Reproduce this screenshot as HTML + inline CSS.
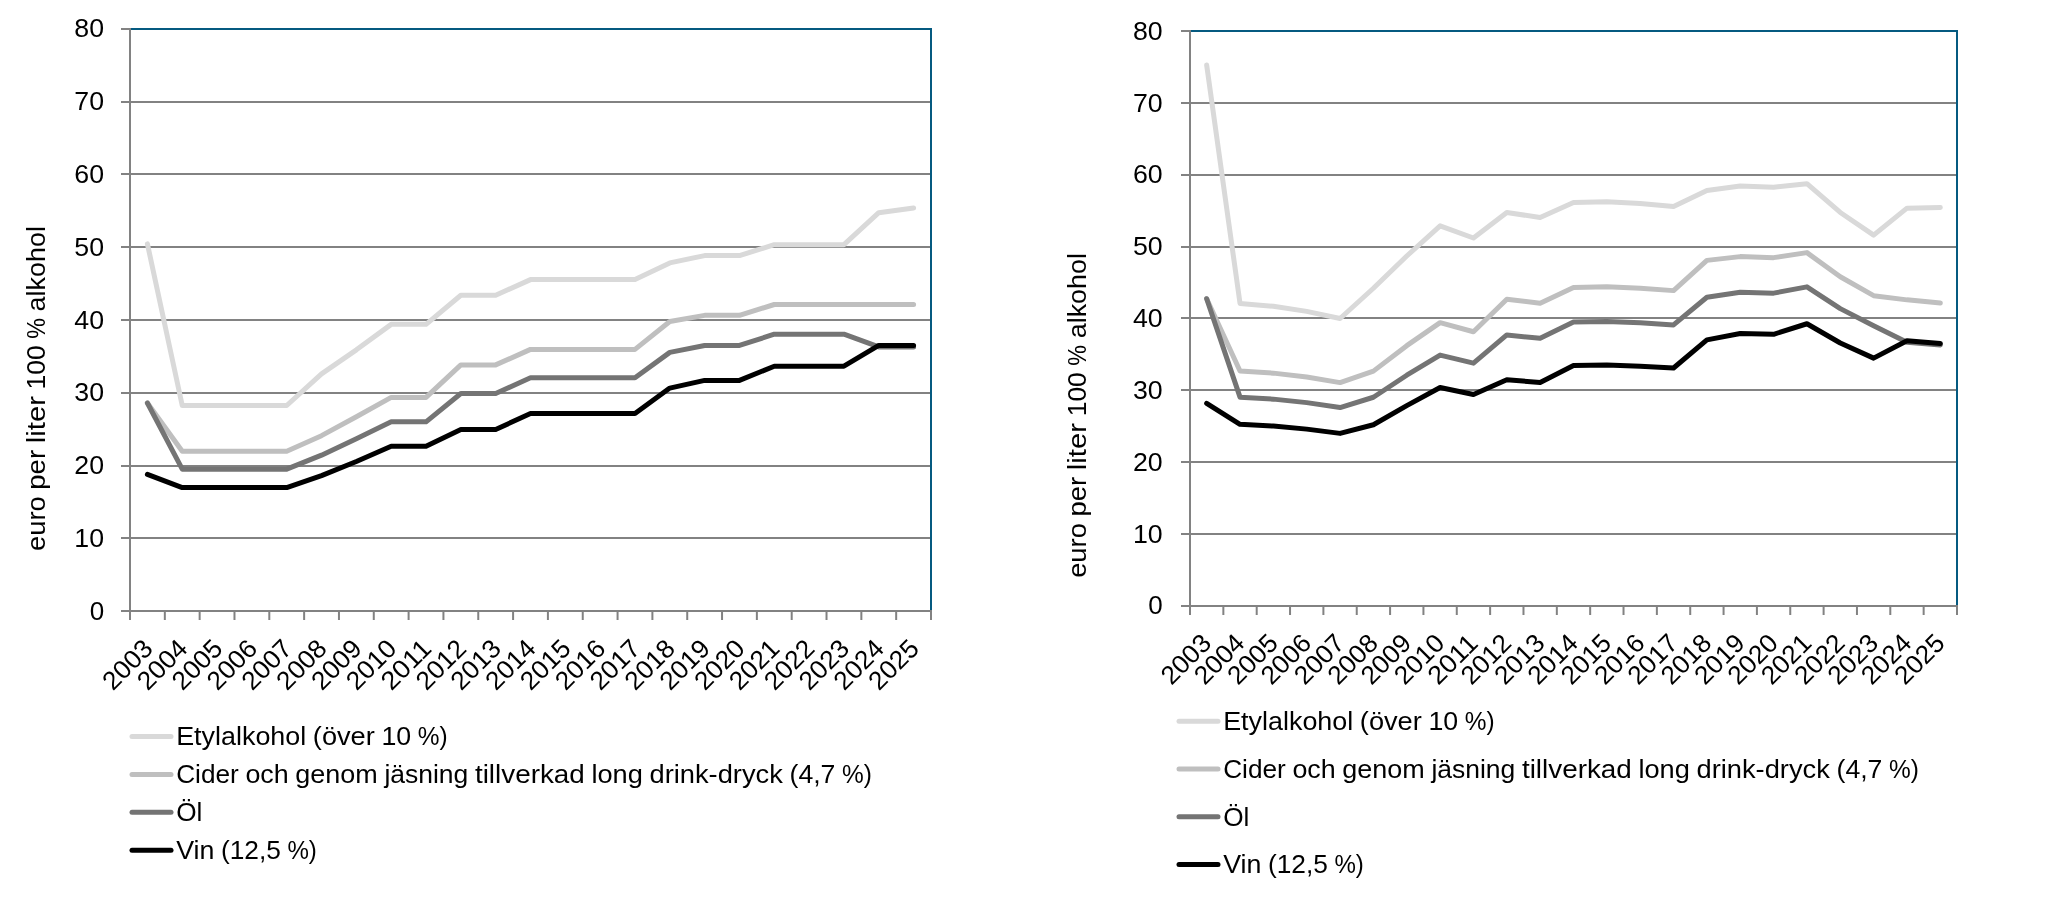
<!DOCTYPE html>
<html lang="sv"><head><meta charset="utf-8"><title>Alkoholskatt</title>
<style>
html,body{margin:0;padding:0;background:#fff;}
svg{display:block;will-change:transform;}
text{font-family:'Liberation Sans', sans-serif;font-size:26.0px;fill:#000;}
</style></head>
<body>
<svg width="2048" height="898" viewBox="0 0 2048 898">
<rect x="0" y="0" width="2048" height="898" fill="#ffffff"/>
<g>
<line x1="121" y1="611.00" x2="130" y2="611.00" stroke="#828282" stroke-width="2"/>
<text x="104.10" y="620.20" text-anchor="end">0</text>
<line x1="121" y1="538.00" x2="931" y2="538.00" stroke="#828282" stroke-width="2"/>
<text x="104.10" y="546.90" text-anchor="end" textLength="29.74" lengthAdjust="spacingAndGlyphs">10</text>
<line x1="121" y1="466.00" x2="931" y2="466.00" stroke="#828282" stroke-width="2"/>
<text x="104.10" y="473.90" text-anchor="end" textLength="29.74" lengthAdjust="spacingAndGlyphs">20</text>
<line x1="121" y1="393.00" x2="931" y2="393.00" stroke="#828282" stroke-width="2"/>
<text x="104.10" y="400.90" text-anchor="end" textLength="29.74" lengthAdjust="spacingAndGlyphs">30</text>
<line x1="121" y1="320.00" x2="931" y2="320.00" stroke="#828282" stroke-width="2"/>
<text x="104.10" y="329.10" text-anchor="end" textLength="29.74" lengthAdjust="spacingAndGlyphs">40</text>
<line x1="121" y1="247.00" x2="931" y2="247.00" stroke="#828282" stroke-width="2"/>
<text x="104.10" y="255.90" text-anchor="end" textLength="29.74" lengthAdjust="spacingAndGlyphs">50</text>
<line x1="121" y1="174.00" x2="931" y2="174.00" stroke="#828282" stroke-width="2"/>
<text x="104.10" y="182.70" text-anchor="end" textLength="29.74" lengthAdjust="spacingAndGlyphs">60</text>
<line x1="121" y1="102.00" x2="931" y2="102.00" stroke="#828282" stroke-width="2"/>
<text x="104.10" y="109.90" text-anchor="end" textLength="29.74" lengthAdjust="spacingAndGlyphs">70</text>
<line x1="121" y1="29.00" x2="130" y2="29.00" stroke="#828282" stroke-width="2"/>
<text x="104.10" y="36.90" text-anchor="end" textLength="29.74" lengthAdjust="spacingAndGlyphs">80</text>
<line x1="130" y1="29" x2="932" y2="29" stroke="#055a80" stroke-width="2"/>
<line x1="931" y1="29" x2="931" y2="611" stroke="#055a80" stroke-width="2"/>
<line x1="130" y1="28" x2="130" y2="612" stroke="#828282" stroke-width="2"/>
<line x1="130" y1="611" x2="932" y2="611" stroke="#828282" stroke-width="2"/>
<line x1="130.00" y1="611" x2="130.00" y2="620" stroke="#828282" stroke-width="2"/>
<line x1="164.83" y1="611" x2="164.83" y2="620" stroke="#828282" stroke-width="2"/>
<line x1="199.65" y1="611" x2="199.65" y2="620" stroke="#828282" stroke-width="2"/>
<line x1="234.48" y1="611" x2="234.48" y2="620" stroke="#828282" stroke-width="2"/>
<line x1="269.30" y1="611" x2="269.30" y2="620" stroke="#828282" stroke-width="2"/>
<line x1="304.13" y1="611" x2="304.13" y2="620" stroke="#828282" stroke-width="2"/>
<line x1="338.96" y1="611" x2="338.96" y2="620" stroke="#828282" stroke-width="2"/>
<line x1="373.78" y1="611" x2="373.78" y2="620" stroke="#828282" stroke-width="2"/>
<line x1="408.61" y1="611" x2="408.61" y2="620" stroke="#828282" stroke-width="2"/>
<line x1="443.43" y1="611" x2="443.43" y2="620" stroke="#828282" stroke-width="2"/>
<line x1="478.26" y1="611" x2="478.26" y2="620" stroke="#828282" stroke-width="2"/>
<line x1="513.09" y1="611" x2="513.09" y2="620" stroke="#828282" stroke-width="2"/>
<line x1="547.91" y1="611" x2="547.91" y2="620" stroke="#828282" stroke-width="2"/>
<line x1="582.74" y1="611" x2="582.74" y2="620" stroke="#828282" stroke-width="2"/>
<line x1="617.57" y1="611" x2="617.57" y2="620" stroke="#828282" stroke-width="2"/>
<line x1="652.39" y1="611" x2="652.39" y2="620" stroke="#828282" stroke-width="2"/>
<line x1="687.22" y1="611" x2="687.22" y2="620" stroke="#828282" stroke-width="2"/>
<line x1="722.04" y1="611" x2="722.04" y2="620" stroke="#828282" stroke-width="2"/>
<line x1="756.87" y1="611" x2="756.87" y2="620" stroke="#828282" stroke-width="2"/>
<line x1="791.70" y1="611" x2="791.70" y2="620" stroke="#828282" stroke-width="2"/>
<line x1="826.52" y1="611" x2="826.52" y2="620" stroke="#828282" stroke-width="2"/>
<line x1="861.35" y1="611" x2="861.35" y2="620" stroke="#828282" stroke-width="2"/>
<line x1="896.17" y1="611" x2="896.17" y2="620" stroke="#828282" stroke-width="2"/>
<line x1="931.00" y1="611" x2="931.00" y2="620" stroke="#828282" stroke-width="2"/>
<polyline points="147.41,243.90 182.24,405.48 217.07,405.48 251.89,405.48 286.72,405.48 321.54,373.83 356.37,349.83 391.20,324.37 426.02,324.37 460.85,295.26 495.67,295.26 530.50,279.62 565.33,279.62 600.15,279.62 634.98,279.62 669.80,262.89 704.63,255.62 739.46,255.62 774.28,244.70 809.11,244.70 843.93,244.70 878.76,212.69 913.59,207.96" fill="none" stroke="#d9d9d9" stroke-width="5" stroke-linecap="round" stroke-linejoin="round"/>
<polyline points="147.41,403.01 182.24,451.31 217.07,451.31 251.89,451.31 286.72,451.31 321.54,435.67 356.37,416.76 391.20,397.41 426.02,397.41 460.85,364.89 495.67,364.89 530.50,349.39 565.33,349.39 600.15,349.39 634.98,349.39 669.80,321.45 704.63,315.34 739.46,315.34 774.28,304.50 809.11,304.50 843.93,304.50 878.76,304.50 913.59,304.50" fill="none" stroke="#bfbfbf" stroke-width="5" stroke-linecap="round" stroke-linejoin="round"/>
<polyline points="147.41,403.01 182.24,469.14 217.07,469.14 251.89,469.14 286.72,469.14 321.54,455.17 356.37,438.80 391.20,421.85 426.02,421.85 460.85,393.48 495.67,393.48 530.50,377.84 565.33,377.84 600.15,377.84 634.98,377.84 669.80,352.37 704.63,345.46 739.46,345.46 774.28,334.19 809.11,334.19 843.93,334.19 878.76,346.92 913.59,346.92" fill="none" stroke="#747474" stroke-width="5" stroke-linecap="round" stroke-linejoin="round"/>
<polyline points="147.41,474.38 182.24,487.62 217.07,487.62 251.89,487.62 286.72,487.62 321.54,475.68 356.37,461.50 391.20,446.29 426.02,446.29 460.85,429.42 495.67,429.42 530.50,413.56 565.33,413.56 600.15,413.56 634.98,413.56 669.80,388.09 704.63,380.38 739.46,380.38 774.28,366.20 809.11,366.20 843.93,366.20 878.76,345.46 913.59,345.46" fill="none" stroke="#000000" stroke-width="5" stroke-linecap="round" stroke-linejoin="round"/>
<text transform="translate(154.31,650.1) rotate(-45)" text-anchor="end" textLength="58.50" lengthAdjust="spacingAndGlyphs">2003</text>
<text transform="translate(189.14,650.1) rotate(-45)" text-anchor="end" textLength="58.50" lengthAdjust="spacingAndGlyphs">2004</text>
<text transform="translate(223.97,650.1) rotate(-45)" text-anchor="end" textLength="58.50" lengthAdjust="spacingAndGlyphs">2005</text>
<text transform="translate(258.79,650.1) rotate(-45)" text-anchor="end" textLength="58.50" lengthAdjust="spacingAndGlyphs">2006</text>
<text transform="translate(293.62,650.1) rotate(-45)" text-anchor="end" textLength="58.50" lengthAdjust="spacingAndGlyphs">2007</text>
<text transform="translate(328.44,650.1) rotate(-45)" text-anchor="end" textLength="58.50" lengthAdjust="spacingAndGlyphs">2008</text>
<text transform="translate(363.27,650.1) rotate(-45)" text-anchor="end" textLength="58.50" lengthAdjust="spacingAndGlyphs">2009</text>
<text transform="translate(398.10,650.1) rotate(-45)" text-anchor="end" textLength="58.50" lengthAdjust="spacingAndGlyphs">2010</text>
<text transform="translate(432.92,650.1) rotate(-45)" text-anchor="end" textLength="58.50" lengthAdjust="spacingAndGlyphs">2011</text>
<text transform="translate(467.75,650.1) rotate(-45)" text-anchor="end" textLength="58.50" lengthAdjust="spacingAndGlyphs">2012</text>
<text transform="translate(502.57,650.1) rotate(-45)" text-anchor="end" textLength="58.50" lengthAdjust="spacingAndGlyphs">2013</text>
<text transform="translate(537.40,650.1) rotate(-45)" text-anchor="end" textLength="58.50" lengthAdjust="spacingAndGlyphs">2014</text>
<text transform="translate(572.23,650.1) rotate(-45)" text-anchor="end" textLength="58.50" lengthAdjust="spacingAndGlyphs">2015</text>
<text transform="translate(607.05,650.1) rotate(-45)" text-anchor="end" textLength="58.50" lengthAdjust="spacingAndGlyphs">2016</text>
<text transform="translate(641.88,650.1) rotate(-45)" text-anchor="end" textLength="58.50" lengthAdjust="spacingAndGlyphs">2017</text>
<text transform="translate(676.70,650.1) rotate(-45)" text-anchor="end" textLength="58.50" lengthAdjust="spacingAndGlyphs">2018</text>
<text transform="translate(711.53,650.1) rotate(-45)" text-anchor="end" textLength="58.50" lengthAdjust="spacingAndGlyphs">2019</text>
<text transform="translate(746.36,650.1) rotate(-45)" text-anchor="end" textLength="58.50" lengthAdjust="spacingAndGlyphs">2020</text>
<text transform="translate(781.18,650.1) rotate(-45)" text-anchor="end" textLength="58.50" lengthAdjust="spacingAndGlyphs">2021</text>
<text transform="translate(816.01,650.1) rotate(-45)" text-anchor="end" textLength="58.50" lengthAdjust="spacingAndGlyphs">2022</text>
<text transform="translate(850.83,650.1) rotate(-45)" text-anchor="end" textLength="58.50" lengthAdjust="spacingAndGlyphs">2023</text>
<text transform="translate(885.66,650.1) rotate(-45)" text-anchor="end" textLength="58.50" lengthAdjust="spacingAndGlyphs">2024</text>
<text transform="translate(920.49,650.1) rotate(-45)" text-anchor="end" textLength="58.50" lengthAdjust="spacingAndGlyphs">2025</text>
<text transform="translate(45.2,388.5) rotate(-90)"><tspan x="-162.43" textLength="54.68" lengthAdjust="spacingAndGlyphs">euro</tspan> <tspan x="-101.21" textLength="39.83" lengthAdjust="spacingAndGlyphs">per</tspan> <tspan x="-54.82" textLength="47.32" lengthAdjust="spacingAndGlyphs">liter</tspan> <tspan x="-0.95" textLength="44.16" lengthAdjust="spacingAndGlyphs">100</tspan> <tspan x="49.77" textLength="20.76" lengthAdjust="spacingAndGlyphs">%</tspan> <tspan x="77.09" textLength="85.34" lengthAdjust="spacingAndGlyphs">alkohol</tspan></text>
<line x1="132" y1="736.4" x2="171" y2="736.4" stroke="#d9d9d9" stroke-width="5" stroke-linecap="round"/>
<text y="745.1"><tspan x="176.20" textLength="130.02" lengthAdjust="spacingAndGlyphs">Etylalkohol</tspan> <tspan x="312.82" textLength="62.02" lengthAdjust="spacingAndGlyphs">(över</tspan> <tspan x="381.47" textLength="29.73" lengthAdjust="spacingAndGlyphs">10</tspan> <tspan x="417.82" textLength="29.88" lengthAdjust="spacingAndGlyphs">%)</tspan></text>
<line x1="132" y1="774.4" x2="171" y2="774.4" stroke="#bfbfbf" stroke-width="5" stroke-linecap="round"/>
<text y="783.1"><tspan x="176.20" textLength="62.61" lengthAdjust="spacingAndGlyphs">Cider</tspan> <tspan x="245.42" textLength="43.30" lengthAdjust="spacingAndGlyphs">och</tspan> <tspan x="295.32" textLength="82.47" lengthAdjust="spacingAndGlyphs">genom</tspan> <tspan x="384.40" textLength="83.91" lengthAdjust="spacingAndGlyphs">jäsning</tspan> <tspan x="474.93" textLength="109.88" lengthAdjust="spacingAndGlyphs">tillverkad</tspan> <tspan x="591.42" textLength="51.44" lengthAdjust="spacingAndGlyphs">long</tspan> <tspan x="649.47" textLength="133.41" lengthAdjust="spacingAndGlyphs">drink-dryck</tspan> <tspan x="789.50" textLength="45.95" lengthAdjust="spacingAndGlyphs">(4,7</tspan> <tspan x="842.06" textLength="29.88" lengthAdjust="spacingAndGlyphs">%)</tspan></text>
<line x1="132" y1="812.3" x2="171" y2="812.3" stroke="#747474" stroke-width="5" stroke-linecap="round"/>
<text y="821.0"><tspan x="176.20" textLength="26.16" lengthAdjust="spacingAndGlyphs">Öl</tspan></text>
<line x1="132" y1="850.2" x2="171" y2="850.2" stroke="#000000" stroke-width="5" stroke-linecap="round"/>
<text y="858.9"><tspan x="176.20" textLength="38.24" lengthAdjust="spacingAndGlyphs">Vin</tspan> <tspan x="220.97" textLength="59.96" lengthAdjust="spacingAndGlyphs">(12,5</tspan> <tspan x="287.46" textLength="29.44" lengthAdjust="spacingAndGlyphs">%)</tspan></text>
</g>
<g>
<line x1="1181" y1="606.00" x2="1190" y2="606.00" stroke="#828282" stroke-width="2"/>
<text x="1162.65" y="613.90" text-anchor="end">0</text>
<line x1="1181" y1="534.00" x2="1957" y2="534.00" stroke="#828282" stroke-width="2"/>
<text x="1162.65" y="542.90" text-anchor="end" textLength="29.74" lengthAdjust="spacingAndGlyphs">10</text>
<line x1="1181" y1="462.00" x2="1957" y2="462.00" stroke="#828282" stroke-width="2"/>
<text x="1162.65" y="470.90" text-anchor="end" textLength="29.74" lengthAdjust="spacingAndGlyphs">20</text>
<line x1="1181" y1="390.00" x2="1957" y2="390.00" stroke="#828282" stroke-width="2"/>
<text x="1162.65" y="398.90" text-anchor="end" textLength="29.74" lengthAdjust="spacingAndGlyphs">30</text>
<line x1="1181" y1="318.00" x2="1957" y2="318.00" stroke="#828282" stroke-width="2"/>
<text x="1162.65" y="326.90" text-anchor="end" textLength="29.74" lengthAdjust="spacingAndGlyphs">40</text>
<line x1="1181" y1="247.00" x2="1957" y2="247.00" stroke="#828282" stroke-width="2"/>
<text x="1162.65" y="254.90" text-anchor="end" textLength="29.74" lengthAdjust="spacingAndGlyphs">50</text>
<line x1="1181" y1="175.00" x2="1957" y2="175.00" stroke="#828282" stroke-width="2"/>
<text x="1162.65" y="182.90" text-anchor="end" textLength="29.74" lengthAdjust="spacingAndGlyphs">60</text>
<line x1="1181" y1="103.00" x2="1957" y2="103.00" stroke="#828282" stroke-width="2"/>
<text x="1162.65" y="112.20" text-anchor="end" textLength="29.74" lengthAdjust="spacingAndGlyphs">70</text>
<line x1="1181" y1="31.00" x2="1190" y2="31.00" stroke="#828282" stroke-width="2"/>
<text x="1162.65" y="39.90" text-anchor="end" textLength="29.74" lengthAdjust="spacingAndGlyphs">80</text>
<line x1="1190" y1="31" x2="1958" y2="31" stroke="#055a80" stroke-width="2"/>
<line x1="1957" y1="31" x2="1957" y2="606" stroke="#055a80" stroke-width="2"/>
<line x1="1190" y1="30" x2="1190" y2="607" stroke="#828282" stroke-width="2"/>
<line x1="1190" y1="606" x2="1958" y2="606" stroke="#828282" stroke-width="2"/>
<line x1="1190.00" y1="606" x2="1190.00" y2="615" stroke="#828282" stroke-width="2"/>
<line x1="1223.35" y1="606" x2="1223.35" y2="615" stroke="#828282" stroke-width="2"/>
<line x1="1256.70" y1="606" x2="1256.70" y2="615" stroke="#828282" stroke-width="2"/>
<line x1="1290.04" y1="606" x2="1290.04" y2="615" stroke="#828282" stroke-width="2"/>
<line x1="1323.39" y1="606" x2="1323.39" y2="615" stroke="#828282" stroke-width="2"/>
<line x1="1356.74" y1="606" x2="1356.74" y2="615" stroke="#828282" stroke-width="2"/>
<line x1="1390.09" y1="606" x2="1390.09" y2="615" stroke="#828282" stroke-width="2"/>
<line x1="1423.43" y1="606" x2="1423.43" y2="615" stroke="#828282" stroke-width="2"/>
<line x1="1456.78" y1="606" x2="1456.78" y2="615" stroke="#828282" stroke-width="2"/>
<line x1="1490.13" y1="606" x2="1490.13" y2="615" stroke="#828282" stroke-width="2"/>
<line x1="1523.48" y1="606" x2="1523.48" y2="615" stroke="#828282" stroke-width="2"/>
<line x1="1556.83" y1="606" x2="1556.83" y2="615" stroke="#828282" stroke-width="2"/>
<line x1="1590.17" y1="606" x2="1590.17" y2="615" stroke="#828282" stroke-width="2"/>
<line x1="1623.52" y1="606" x2="1623.52" y2="615" stroke="#828282" stroke-width="2"/>
<line x1="1656.87" y1="606" x2="1656.87" y2="615" stroke="#828282" stroke-width="2"/>
<line x1="1690.22" y1="606" x2="1690.22" y2="615" stroke="#828282" stroke-width="2"/>
<line x1="1723.57" y1="606" x2="1723.57" y2="615" stroke="#828282" stroke-width="2"/>
<line x1="1756.91" y1="606" x2="1756.91" y2="615" stroke="#828282" stroke-width="2"/>
<line x1="1790.26" y1="606" x2="1790.26" y2="615" stroke="#828282" stroke-width="2"/>
<line x1="1823.61" y1="606" x2="1823.61" y2="615" stroke="#828282" stroke-width="2"/>
<line x1="1856.96" y1="606" x2="1856.96" y2="615" stroke="#828282" stroke-width="2"/>
<line x1="1890.30" y1="606" x2="1890.30" y2="615" stroke="#828282" stroke-width="2"/>
<line x1="1923.65" y1="606" x2="1923.65" y2="615" stroke="#828282" stroke-width="2"/>
<line x1="1957.00" y1="606" x2="1957.00" y2="615" stroke="#828282" stroke-width="2"/>
<polyline points="1206.67,65.06 1240.02,303.46 1273.37,306.30 1306.72,311.38 1340.07,318.49 1373.41,288.27 1406.76,255.98 1440.11,225.79 1473.46,238.00 1506.80,212.49 1540.15,217.51 1573.50,202.49 1606.85,201.71 1640.20,203.51 1673.54,206.52 1706.89,190.47 1740.24,186.04 1773.59,187.27 1806.93,183.67 1840.28,212.48 1873.63,235.13 1906.98,208.16 1940.33,207.53" fill="none" stroke="#d9d9d9" stroke-width="5" stroke-linecap="round" stroke-linejoin="round"/>
<polyline points="1206.67,298.73 1240.02,370.93 1273.37,373.14 1306.72,377.08 1340.07,382.60 1373.41,371.12 1406.76,345.68 1440.11,322.68 1473.46,331.77 1506.80,299.26 1540.15,303.18 1573.50,287.44 1606.85,286.82 1640.20,288.25 1673.54,290.62 1706.89,260.38 1740.24,256.62 1773.59,257.64 1806.93,252.62 1840.28,276.73 1873.63,295.68 1906.98,299.86 1940.33,302.98" fill="none" stroke="#bfbfbf" stroke-width="5" stroke-linecap="round" stroke-linejoin="round"/>
<polyline points="1206.67,298.73 1240.02,397.17 1273.37,399.13 1306.72,402.63 1340.07,407.54 1373.41,397.24 1406.76,375.22 1440.11,355.10 1473.46,363.16 1506.80,334.90 1540.15,338.36 1573.50,322.08 1606.85,321.53 1640.20,322.80 1673.54,324.92 1706.89,297.29 1740.24,292.21 1773.59,293.13 1806.93,286.84 1840.28,308.61 1873.63,325.73 1906.98,342.22 1940.33,344.91" fill="none" stroke="#747474" stroke-width="5" stroke-linecap="round" stroke-linejoin="round"/>
<polyline points="1206.67,403.31 1240.02,424.37 1273.37,426.08 1306.72,429.12 1340.07,433.39 1373.41,424.72 1406.76,405.64 1440.11,387.53 1473.46,394.54 1506.80,379.69 1540.15,382.58 1573.50,365.58 1606.85,365.11 1640.20,366.18 1673.54,367.98 1706.89,339.92 1740.24,333.48 1773.59,334.27 1806.93,323.75 1840.28,343.00 1873.63,358.14 1906.98,340.77 1940.33,343.47" fill="none" stroke="#000000" stroke-width="5" stroke-linecap="round" stroke-linejoin="round"/>
<text transform="translate(1212.77,644.7) rotate(-45)" text-anchor="end" textLength="58.50" lengthAdjust="spacingAndGlyphs">2003</text>
<text transform="translate(1246.12,644.7) rotate(-45)" text-anchor="end" textLength="58.50" lengthAdjust="spacingAndGlyphs">2004</text>
<text transform="translate(1279.47,644.7) rotate(-45)" text-anchor="end" textLength="58.50" lengthAdjust="spacingAndGlyphs">2005</text>
<text transform="translate(1312.82,644.7) rotate(-45)" text-anchor="end" textLength="58.50" lengthAdjust="spacingAndGlyphs">2006</text>
<text transform="translate(1346.17,644.7) rotate(-45)" text-anchor="end" textLength="58.50" lengthAdjust="spacingAndGlyphs">2007</text>
<text transform="translate(1379.51,644.7) rotate(-45)" text-anchor="end" textLength="58.50" lengthAdjust="spacingAndGlyphs">2008</text>
<text transform="translate(1412.86,644.7) rotate(-45)" text-anchor="end" textLength="58.50" lengthAdjust="spacingAndGlyphs">2009</text>
<text transform="translate(1446.21,644.7) rotate(-45)" text-anchor="end" textLength="58.50" lengthAdjust="spacingAndGlyphs">2010</text>
<text transform="translate(1479.56,644.7) rotate(-45)" text-anchor="end" textLength="58.50" lengthAdjust="spacingAndGlyphs">2011</text>
<text transform="translate(1512.90,644.7) rotate(-45)" text-anchor="end" textLength="58.50" lengthAdjust="spacingAndGlyphs">2012</text>
<text transform="translate(1546.25,644.7) rotate(-45)" text-anchor="end" textLength="58.50" lengthAdjust="spacingAndGlyphs">2013</text>
<text transform="translate(1579.60,644.7) rotate(-45)" text-anchor="end" textLength="58.50" lengthAdjust="spacingAndGlyphs">2014</text>
<text transform="translate(1612.95,644.7) rotate(-45)" text-anchor="end" textLength="58.50" lengthAdjust="spacingAndGlyphs">2015</text>
<text transform="translate(1646.30,644.7) rotate(-45)" text-anchor="end" textLength="58.50" lengthAdjust="spacingAndGlyphs">2016</text>
<text transform="translate(1679.64,644.7) rotate(-45)" text-anchor="end" textLength="58.50" lengthAdjust="spacingAndGlyphs">2017</text>
<text transform="translate(1712.99,644.7) rotate(-45)" text-anchor="end" textLength="58.50" lengthAdjust="spacingAndGlyphs">2018</text>
<text transform="translate(1746.34,644.7) rotate(-45)" text-anchor="end" textLength="58.50" lengthAdjust="spacingAndGlyphs">2019</text>
<text transform="translate(1779.69,644.7) rotate(-45)" text-anchor="end" textLength="58.50" lengthAdjust="spacingAndGlyphs">2020</text>
<text transform="translate(1813.03,644.7) rotate(-45)" text-anchor="end" textLength="58.50" lengthAdjust="spacingAndGlyphs">2021</text>
<text transform="translate(1846.38,644.7) rotate(-45)" text-anchor="end" textLength="58.50" lengthAdjust="spacingAndGlyphs">2022</text>
<text transform="translate(1879.73,644.7) rotate(-45)" text-anchor="end" textLength="58.50" lengthAdjust="spacingAndGlyphs">2023</text>
<text transform="translate(1913.08,644.7) rotate(-45)" text-anchor="end" textLength="58.50" lengthAdjust="spacingAndGlyphs">2024</text>
<text transform="translate(1946.43,644.7) rotate(-45)" text-anchor="end" textLength="58.50" lengthAdjust="spacingAndGlyphs">2025</text>
<text transform="translate(1086,415.4) rotate(-90)"><tspan x="-162.43" textLength="54.68" lengthAdjust="spacingAndGlyphs">euro</tspan> <tspan x="-101.21" textLength="39.83" lengthAdjust="spacingAndGlyphs">per</tspan> <tspan x="-54.82" textLength="47.32" lengthAdjust="spacingAndGlyphs">liter</tspan> <tspan x="-0.95" textLength="44.16" lengthAdjust="spacingAndGlyphs">100</tspan> <tspan x="49.77" textLength="20.76" lengthAdjust="spacingAndGlyphs">%</tspan> <tspan x="77.09" textLength="85.34" lengthAdjust="spacingAndGlyphs">alkohol</tspan></text>
<line x1="1179" y1="721.3" x2="1218" y2="721.3" stroke="#d9d9d9" stroke-width="5" stroke-linecap="round"/>
<text y="730.0"><tspan x="1223.20" textLength="130.02" lengthAdjust="spacingAndGlyphs">Etylalkohol</tspan> <tspan x="1359.82" textLength="62.02" lengthAdjust="spacingAndGlyphs">(över</tspan> <tspan x="1428.47" textLength="29.73" lengthAdjust="spacingAndGlyphs">10</tspan> <tspan x="1464.82" textLength="29.88" lengthAdjust="spacingAndGlyphs">%)</tspan></text>
<line x1="1179" y1="769.1" x2="1218" y2="769.1" stroke="#bfbfbf" stroke-width="5" stroke-linecap="round"/>
<text y="777.8"><tspan x="1223.20" textLength="62.61" lengthAdjust="spacingAndGlyphs">Cider</tspan> <tspan x="1292.42" textLength="43.30" lengthAdjust="spacingAndGlyphs">och</tspan> <tspan x="1342.32" textLength="82.47" lengthAdjust="spacingAndGlyphs">genom</tspan> <tspan x="1431.40" textLength="83.91" lengthAdjust="spacingAndGlyphs">jäsning</tspan> <tspan x="1521.93" textLength="109.88" lengthAdjust="spacingAndGlyphs">tillverkad</tspan> <tspan x="1638.42" textLength="51.44" lengthAdjust="spacingAndGlyphs">long</tspan> <tspan x="1696.47" textLength="133.41" lengthAdjust="spacingAndGlyphs">drink-dryck</tspan> <tspan x="1836.50" textLength="45.95" lengthAdjust="spacingAndGlyphs">(4,7</tspan> <tspan x="1889.06" textLength="29.88" lengthAdjust="spacingAndGlyphs">%)</tspan></text>
<line x1="1179" y1="816.8" x2="1218" y2="816.8" stroke="#747474" stroke-width="5" stroke-linecap="round"/>
<text y="825.5"><tspan x="1223.20" textLength="26.16" lengthAdjust="spacingAndGlyphs">Öl</tspan></text>
<line x1="1179" y1="864.5" x2="1218" y2="864.5" stroke="#000000" stroke-width="5" stroke-linecap="round"/>
<text y="873.2"><tspan x="1223.20" textLength="38.24" lengthAdjust="spacingAndGlyphs">Vin</tspan> <tspan x="1267.97" textLength="59.96" lengthAdjust="spacingAndGlyphs">(12,5</tspan> <tspan x="1334.46" textLength="29.44" lengthAdjust="spacingAndGlyphs">%)</tspan></text>
</g>
</svg>
</body></html>
